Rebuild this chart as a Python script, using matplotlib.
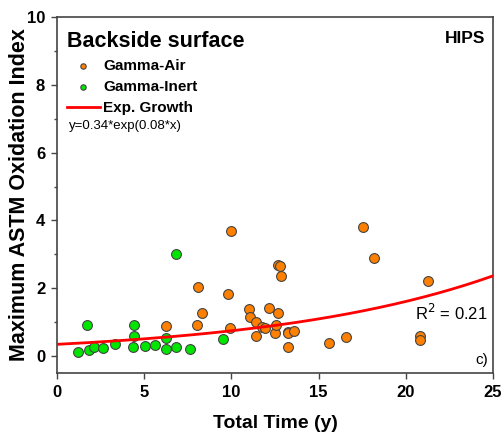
import numpy as np
import matplotlib.pyplot as plt
from matplotlib.ticker import MultipleLocator

plt.rcParams['font.family'] = ['Liberation Sans', 'DejaVu Sans']

# Gamma-Air (orange)
air_x = [6.25, 8.01, 8.08, 8.31, 9.79, 9.92, 9.98, 11.0, 11.05, 11.39, 11.39, 11.75,
         11.93, 12.16, 12.52, 12.54, 12.67, 12.67, 12.80, 12.82, 13.23, 13.26, 13.61,
         13.23, 15.62, 16.55, 17.57, 18.18, 20.82, 20.82, 21.3]
air_y = [0.89, 0.92, 2.03, 1.26, 1.82, 0.82, 3.68, 1.38, 1.14, 0.99, 0.60, 0.85,
         0.82, 1.41, 0.67, 0.92, 1.26, 2.68, 2.66, 2.37, 0.72, 0.68, 0.74,
         0.27, 0.37, 0.57, 3.82, 2.88, 0.58, 0.48, 2.21]

# Gamma-Inert (green)
inert_x = [1.22, 1.74, 1.82, 2.10, 2.62, 3.35, 4.36, 4.40, 4.41, 5.05, 5.62, 6.27,
           6.27, 6.80, 6.80, 7.63, 9.50]
inert_y = [0.12, 0.93, 0.18, 0.27, 0.25, 0.35, 0.27, 0.93, 0.59, 0.30, 0.33, 0.52,
           0.20, 0.28, 3.01, 0.21, 0.50]

# exp growth fit y = a*exp(b*x)
fit_a = 0.345
fit_b = 0.077

fig = plt.figure(figsize=(5.01, 4.33), dpi=100)
ax = fig.add_axes([0.1138, 0.1386, 0.8702, 0.8221])

edge = '#444444'
ax.scatter(air_x, air_y, s=50, color='#FF8000', edgecolors=edge, linewidths=0.8,
           zorder=3, label='Gamma-Air')
ax.scatter(inert_x, inert_y, s=50, color='#00E600', edgecolors=edge, linewidths=0.8,
           zorder=3, label='Gamma-Inert')
xx = np.linspace(0, 25, 200)
ax.plot(xx, fit_a * np.exp(fit_b * xx), color='#FF0000', lw=2, zorder=4,
        label='Exp. Growth')

ax.set_xlim(0, 25)
ax.set_ylim(-0.5, 10)
ax.xaxis.set_major_locator(MultipleLocator(5))
ax.yaxis.set_major_locator(MultipleLocator(2))
ax.yaxis.set_minor_locator(MultipleLocator(1))
ax.tick_params(which='major', length=4.5, width=1, color=edge, labelsize=12, pad=4)
ax.tick_params(which='minor', length=2.5, width=1, color=edge)
for lab in ax.get_xticklabels() + ax.get_yticklabels():
    lab.set_fontweight('bold')
for sp in ax.spines.values():
    sp.set_color(edge)
    sp.set_linewidth(1.2)

ax.set_xlabel('Total Time (y)', fontsize=14, fontweight='bold', labelpad=11)
ax.set_ylabel('Maximum ASTM Oxidation Index', fontsize=15.5, fontweight='bold', labelpad=-2)

ax.text(0.022, 0.962, 'Backside surface', transform=ax.transAxes, fontsize=15.5,
        fontweight='bold', va='top', ha='left')
ax.text(0.982, 0.962, 'HIPS', transform=ax.transAxes, fontsize=12.5,
        fontweight='bold', va='top', ha='right')
ax.text(0.028, 0.694, 'y=0.34*exp(0.08*x)', transform=ax.transAxes, fontsize=9.5,
        va='center', ha='left')
ax.text(0.988, 0.15, 'R$^2$ = 0.21', transform=ax.transAxes, fontsize=12,
        va='baseline', ha='right')
ax.text(0.988, 0.037, 'c)', transform=ax.transAxes, fontsize=11,
        va='center', ha='right')

leg = ax.legend(loc='upper left', bbox_to_anchor=(0.008, 0.898), frameon=False,
                markerscale=0.55, handlelength=2.2, handletextpad=0.2,
                labelspacing=0.45, borderaxespad=0,
                prop={'weight': 'bold', 'size': 11})

fig.savefig('out.png', dpi=100)
